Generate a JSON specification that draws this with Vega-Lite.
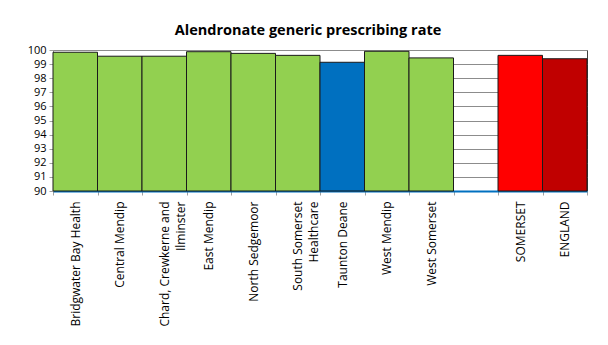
{
  "$schema": "https://vega.github.io/schema/vega-lite/v6.json",
  "autosize": "none",
  "width": 534,
  "height": 141,
  "padding": {"left": 53, "top": 50, "right": 21, "bottom": 154},
  "background": "white",
  "title": {
    "text": "Alendronate generic prescribing rate",
    "fontSize": 14.5,
    "fontWeight": "bold",
    "font": "Open Sans",
    "color": "#000000",
    "offset": 6,
    "dx": -12
  },
  "config": {
    "view": {"stroke": "#404040", "strokeWidth": 1},
    "axis": {"labelFont": "Open Sans", "labelColor": "#000000"}
  },
  "data": {
    "values": [
      {"name": "Bridgwater Bay Health", "rate": 99.84, "group": "locality"},
      {"name": "Central Mendip", "rate": 99.56, "group": "locality"},
      {"name": "Chard, Crewkerne and Ilminster", "rate": 99.56, "group": "locality"},
      {"name": "East Mendip", "rate": 99.88, "group": "locality"},
      {"name": "North Sedgemoor", "rate": 99.76, "group": "locality"},
      {"name": "South Somerset Healthcare", "rate": 99.62, "group": "locality"},
      {"name": "Taunton Deane", "rate": 99.13, "group": "highlight"},
      {"name": "West Mendip", "rate": 99.91, "group": "locality"},
      {"name": "West Somerset", "rate": 99.44, "group": "locality"},
      {"name": "SOMERSET", "rate": 99.62, "group": "somerset"},
      {"name": "ENGLAND", "rate": 99.38, "group": "england"}
    ]
  },
  "mark": {"type": "bar", "stroke": "#1a1a1a", "strokeWidth": 1},
  "encoding": {
    "x": {
      "field": "name",
      "type": "nominal",
      "sort": null,
      "scale": {
        "domain": ["Bridgwater Bay Health", "Central Mendip", "Chard, Crewkerne and Ilminster", "East Mendip", "North Sedgemoor", "South Somerset Healthcare", "Taunton Deane", "West Mendip", "West Somerset", " ", "SOMERSET", "ENGLAND"],
        "paddingInner": 0,
        "paddingOuter": 0
      },
      "axis": {
        "title": null,
        "labelAngle": -90,
        "labelAlign": "right",
        "labelBaseline": "middle",
        "labelFontSize": 12,
        "labelPadding": 6,
        "labelLimit": 200,
        "labelLineHeight": 16,
        "labelExpr": "datum.label == 'Chard, Crewkerne and Ilminster' ? ['Chard, Crewkerne and', 'Ilminster'] : datum.label == 'South Somerset Healthcare' ? ['South Somerset', 'Healthcare'] : datum.label",
        "domainColor": "#0070c0",
        "domainWidth": 2,
        "tickColor": "#a0a0a0",
        "tickSize": 4,
        "tickBand": "extent",
        "grid": false
      }
    },
    "y": {
      "field": "rate",
      "type": "quantitative",
      "scale": {"domain": [90, 100], "zero": false, "nice": false},
      "axis": {
        "title": null,
        "values": [90, 91, 92, 93, 94, 95, 96, 97, 98, 99, 100],
        "labelFontSize": 11,
        "labelPadding": 3,
        "tickColor": "#a0a0a0",
        "tickSize": 4,
        "domainColor": "#a0a0a0",
        "grid": true,
        "gridColor": "#8c8c8c",
        "gridOpacity": 1,
        "gridWidth": 1.2
      }
    },
    "y2": {"datum": 90},
    "color": {
      "field": "group",
      "type": "nominal",
      "scale": {
        "domain": ["locality", "highlight", "somerset", "england"],
        "range": ["#92d050", "#0070c0", "#ff0000", "#c00000"]
      },
      "legend": null
    }
  }
}
